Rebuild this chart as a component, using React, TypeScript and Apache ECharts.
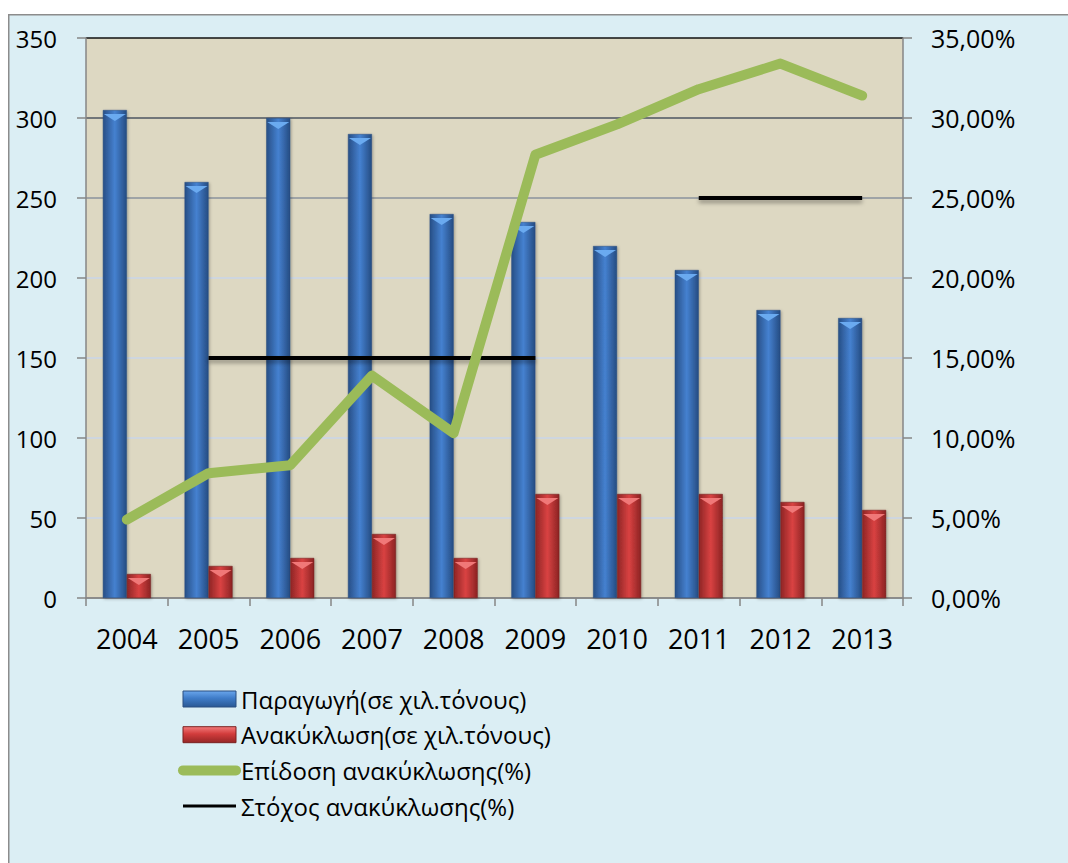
import React, { useEffect, useRef } from "react";
import * as echarts from "echarts";

const years = ["2004", "2005", "2006", "2007", "2008", "2009", "2010", "2011", "2012", "2013"];
const production = [305, 260, 300, 290, 240, 235, 220, 205, 180, 175];
const recycling = [15, 20, 25, 40, 25, 65, 65, 65, 60, 55];
const performance = [4.9, 7.8, 8.3, 13.9, 10.3, 27.7, 29.6, 31.8, 33.4, 31.4];
const target = [null, 15, 15, 15, 15, 15, null, 25, 25, 25];

const seriesNames = [
  "Παραγωγή(σε χιλ.τόνους)",
  "Ανακύκλωση(σε χιλ.τόνους)",
  "Επίδοση ανακύκλωσης(%)",
  "Στόχος ανακύκλωσης(%)",
];

const FONT = "'Open Sans', 'Noto Sans', sans-serif";

export default function App() {
  const ref = useRef<HTMLDivElement>(null);
  useEffect(() => {
    if (!ref.current) return;
    document.body.style.margin = "0";
    document.documentElement.style.overflow = "hidden";
    document.body.style.overflow = "hidden";
    const chart = echarts.init(ref.current, null, { renderer: "svg" });
    const blueGrad = new echarts.graphic.LinearGradient(0, 0, 1, 0, [
      { offset: 0, color: "#274f86" },
      { offset: 0.5, color: "#4581d0" },
      { offset: 1, color: "#254c82" },
    ]);
    const redGrad = new echarts.graphic.LinearGradient(0, 0, 1, 0, [
      { offset: 0, color: "#8e2525" },
      { offset: 0.5, color: "#d94242" },
      { offset: 1, color: "#8c2323" },
    ]);
    const blueLegend = new echarts.graphic.LinearGradient(0, 0, 0, 1, [
      { offset: 0, color: "#6aa6ec" },
      { offset: 0.45, color: "#3f7cc8" },
      { offset: 1, color: "#2a5894" },
    ]);
    const redLegend = new echarts.graphic.LinearGradient(0, 0, 0, 1, [
      { offset: 0, color: "#f27a7a" },
      { offset: 0.45, color: "#d23c3c" },
      { offset: 1, color: "#952626" },
    ]);
    chart.setOption({
      animation: false,
      backgroundColor: "#ffffff",
      textStyle: { fontFamily: FONT },
      graphic: [
        {
          type: "rect",
          shape: { x: 8, y: 14, width: 1080, height: 870 },
          style: { fill: "#dbeef4", lineWidth: 0 },
          z: -10,
          silent: true,
        },
        {
          type: "polyline",
          shape: { points: [[8.75, 880], [8.75, 14.75], [1080, 14.75]] },
          style: { fill: null, stroke: "#8c8c8c", lineWidth: 1.5 },
          z: -9,
          silent: true,
        },
      ],
      grid: {
        left: 86,
        top: 38,
        right: 165,
        bottom: 265,
        show: true,
        backgroundColor: "#ddd8c2",
        borderWidth: 0,
      },
      legend: {
        orient: "vertical",
        left: 178,
        top: 687,
        padding: 0,
        itemWidth: 53,
        itemHeight: 16,
        itemGap: 11.7,
        textStyle: { fontSize: 24, color: "#000", fontFamily: FONT, lineHeight: 23 },
        data: [
          { name: seriesNames[0], icon: "rect", itemStyle: { color: blueLegend, borderColor: "#2a4f80", borderWidth: 1 } },
          { name: seriesNames[1], icon: "rect", itemStyle: { color: redLegend, borderColor: "#7a2020", borderWidth: 1 } },
          {
            name: seriesNames[2],
            itemStyle: { opacity: 0 },
            lineStyle: { color: "#9bbb59", width: 10, cap: "round" },
          },
          {
            name: seriesNames[3],
            itemStyle: { opacity: 0 },
            lineStyle: { color: "#000", width: 3 },
          },
        ],
      },
      xAxis: {
        type: "category",
        data: years,
        boundaryGap: true,
        axisLine: { lineStyle: { color: "#868686", width: 1.5 } },
        axisTick: { show: true, length: 8, inside: false, lineStyle: { color: "#868686", width: 1.5 } },
        axisLabel: { fontSize: 27, color: "#000", margin: 27, fontFamily: FONT },
      },
      yAxis: [
        {
          type: "value",
          min: 0,
          max: 350,
          interval: 50,
          axisLine: { show: true, lineStyle: { color: "#868686", width: 1.5 } },
          axisTick: { show: true, length: 9, lineStyle: { color: "#868686", width: 1.5 } },
          axisLabel: { fontSize: 24, color: "#000", margin: 29, fontFamily: FONT },
          splitLine: {
            show: true,
            lineStyle: {
              width: 1.5,
              color: ["#868686", "#c9d6e8", "#c9d6e8", "#c9d6e8", "#c9d6e8", "#8a939c", "#4c5660", "#111111"],
            },
          },
        },
        {
          type: "value",
          min: 0,
          max: 35,
          interval: 5,
          position: "right",
          axisLine: { show: true, lineStyle: { color: "#868686", width: 1.5 } },
          axisTick: { show: true, length: 9, lineStyle: { color: "#868686", width: 1.5 } },
          axisLabel: {
            fontSize: 25,
            color: "#000",
            margin: 28,
            fontFamily: FONT,
            formatter: (v: number) => v.toFixed(2).replace(".", ",") + "%",
          },
          splitLine: { show: false },
        },
      ],
      series: [
        {
          name: seriesNames[0],
          type: "bar",
          data: production,
          barWidth: 24,
          barGap: "0%",
          itemStyle: {
            color: blueGrad,
            borderColor: "#2a4f80",
            borderWidth: 0.5,
            shadowColor: "rgba(0,0,0,0.3)",
            shadowBlur: 3,
            shadowOffsetX: 1,
            shadowOffsetY: 1,
          },
          z: 2,
        },
        {
          name: seriesNames[1],
          type: "bar",
          data: recycling,
          barWidth: 24,
          barGap: "0%",
          itemStyle: {
            color: redGrad,
            borderColor: "#6e1c1c",
            borderWidth: 0.5,
            shadowColor: "rgba(0,0,0,0.3)",
            shadowBlur: 3,
            shadowOffsetX: 1,
            shadowOffsetY: 1,
          },
          z: 2,
        },
        {
          type: "pictorialBar",
          data: production,
          symbol: "triangle",
          symbolRotate: 180,
          symbolSize: [22, 7],
          symbolPosition: "end",
          symbolOffset: [-12, 4],
          itemStyle: { color: "#6aaaf0" },
          silent: true,
          z: 3,
        },
        {
          type: "pictorialBar",
          data: recycling,
          symbol: "triangle",
          symbolRotate: 180,
          symbolSize: [22, 7],
          symbolPosition: "end",
          symbolOffset: [12, 4],
          itemStyle: { color: "#f07878" },
          silent: true,
          z: 3,
        },
        {
          name: seriesNames[2],
          type: "line",
          yAxisIndex: 1,
          data: performance,
          symbol: "none",
          lineStyle: { color: "#9bbb59", width: 10, cap: "round", join: "round" },
          itemStyle: { color: "#9bbb59" },
          z: 5,
        },
        {
          name: seriesNames[3],
          type: "line",
          yAxisIndex: 1,
          data: target,
          symbol: "none",
          connectNulls: false,
          lineStyle: {
            color: "#000",
            width: 4,
            shadowColor: "rgba(0,0,0,0.35)",
            shadowBlur: 4,
            shadowOffsetY: 3,
          },
          itemStyle: { color: "#000" },
          z: 4,
        },
      ],
    });
    return () => chart.dispose();
  }, []);
  return <div ref={ref} style={{ width: 1068, height: 863 }} />;
}
